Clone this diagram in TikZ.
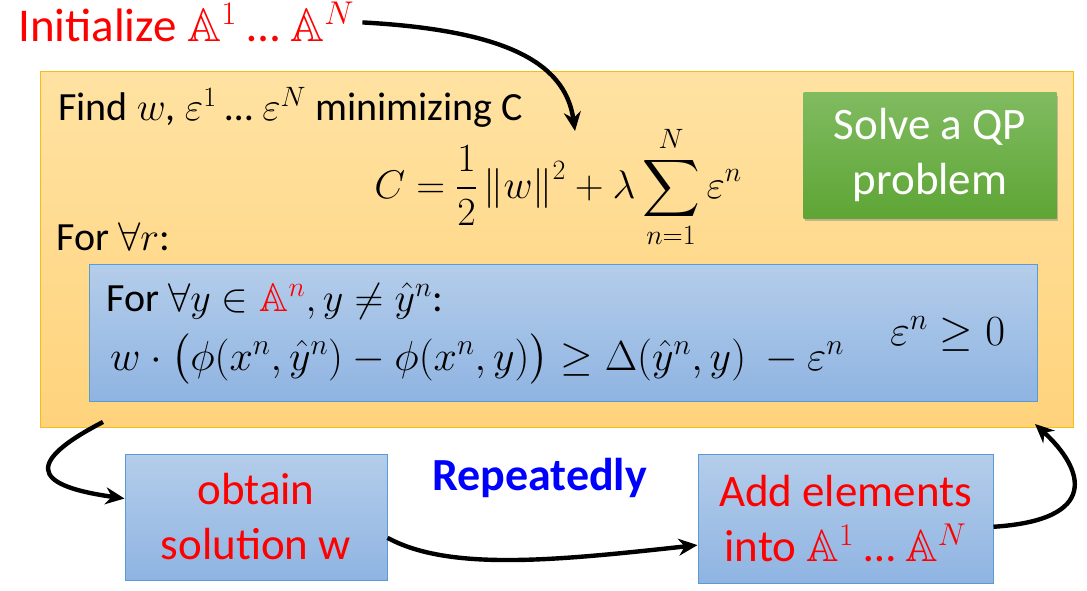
\documentclass[tikz,border=0pt]{standalone}
\usepackage{fix-cm}
\usepackage{amsmath}
\usepackage{amssymb}
\DeclareFontFamily{U}{msb}{}
\DeclareFontShape{U}{msb}{m}{n}{<-> msbm10}{}
\usepackage{fontspec}
\setmainfont{Carlito}
\usetikzlibrary{arrows.meta,shadows}

\definecolor{orangetop}{RGB}{255,226,162}
\definecolor{orangebot}{RGB}{255,211,124}
\definecolor{orangeline}{RGB}{246,190,20}
\definecolor{bluetop}{RGB}{180,205,234}
\definecolor{bluebot}{RGB}{143,180,226}
\definecolor{blueline}{RGB}{91,155,213}
\definecolor{greentop}{RGB}{128,187,96}
\definecolor{greenbot}{RGB}{94,165,53}

\tikzset{
    orangebox/.style={draw=orangeline, line width=1pt, top color=orangetop, bottom color=orangebot, inner sep=0pt},
    bluebox/.style={draw=blueline, line width=1pt, top color=bluetop, bottom color=bluebot, inner sep=0pt, align=center},
    qpbox/.style={top color=greentop, bottom color=greenbot, inner sep=0pt, align=center, text=white,
        drop shadow={shadow xshift=1pt, shadow yshift=-3pt, opacity=0.45}},
    txt/.style={anchor=base west, inner sep=0pt, font=\fontsize{40}{48}\selectfont},
    big/.style={font=\fontsize{45}{55}\selectfont},
    flow/.style={line width=4.4pt, -{Stealth[length=19pt,width=17pt]}}
}

\begin{document}
\begin{tikzpicture}[x=1pt,y=-1pt]
            \useasboundingbox (0,0) rectangle (1087,591);

            \node[orangebox, minimum width=1033, minimum height=355] (cbox) at (556.5,249.5) {};
            \node[bluebox, minimum width=948, minimum height=137] (cons) at (563,332.5) {};
            \node[qpbox, big, minimum width=253, minimum height=125] (qp) at (930,155.5) {Solve a QP\\problem};
            \node[bluebox, big, text=red, minimum width=262, minimum height=126] (obtain) at (256,517) {obtain\\solution w};
            \node[bluebox, big, text=red, minimum width=295, minimum height=129] (add) at (845.5,519) {Add elements\\into $\mathbb{A}^1$ … $\mathbb{A}^N$};

            \node[txt, font=\fontsize{47}{54}\selectfont, text=red] (init) at (18,42) {Initialize $\mathbb{A}^1$ … $\mathbb{A}^N$};
            \node[txt] (find) at (58,121) {Find $w$, $\varepsilon^1$ … $\varepsilon^N$ minimizing C};
            \node[font=\fontsize{40}{48}\selectfont, inner sep=0pt] (cost) at (558,187)
                {$\displaystyle C=\frac{1}{2}\left\Vert w\right\Vert^2+\lambda\sum_{n=1}^{N}\varepsilon^n$};
            \node[txt] (forr) at (56,250) {For $\forall r$:};
            \node[txt] (fory) at (106,311) {For $\forall y\in{\color{red}\mathbb{A}^n}, y\neq\hat{y}^n$:};
            \node[txt, font=\fontsize{42}{50}\selectfont] (margin) at (110,370)
                {$w\cdot\bigl(\phi(x^n,\hat{y}^n)-\phi(x^n,y)\bigr)\geq\Delta(\hat{y}^n,y)\ -\varepsilon^n$};
            \node[txt, font=\fontsize{43}{50}\selectfont] (slack) at (890,345) {$\varepsilon^n\geq 0$};
            \node[txt, font=\fontsize{46}{54}\selectfont\bfseries, text=blue] (rep) at (432,490) {Repeatedly};

            \coordinate (t1) at (575,131);
            \coordinate (s2) at (103,422);
            \coordinate (t4) at (1035,424);

            \draw[flow] ([xshift=8pt]init.east) .. controls (500,30) and (565,60) .. (t1);
            \draw[flow] (s2) .. controls (10,470) and (50,488) .. (obtain.172);
            \draw[flow] (obtain.-9) .. controls (450,572) and (560,560) .. (add.190);
            \draw[flow] (add.-3) .. controls (1100,520) and (1085,470) .. (t4);
        \end{tikzpicture}
\end{document}
